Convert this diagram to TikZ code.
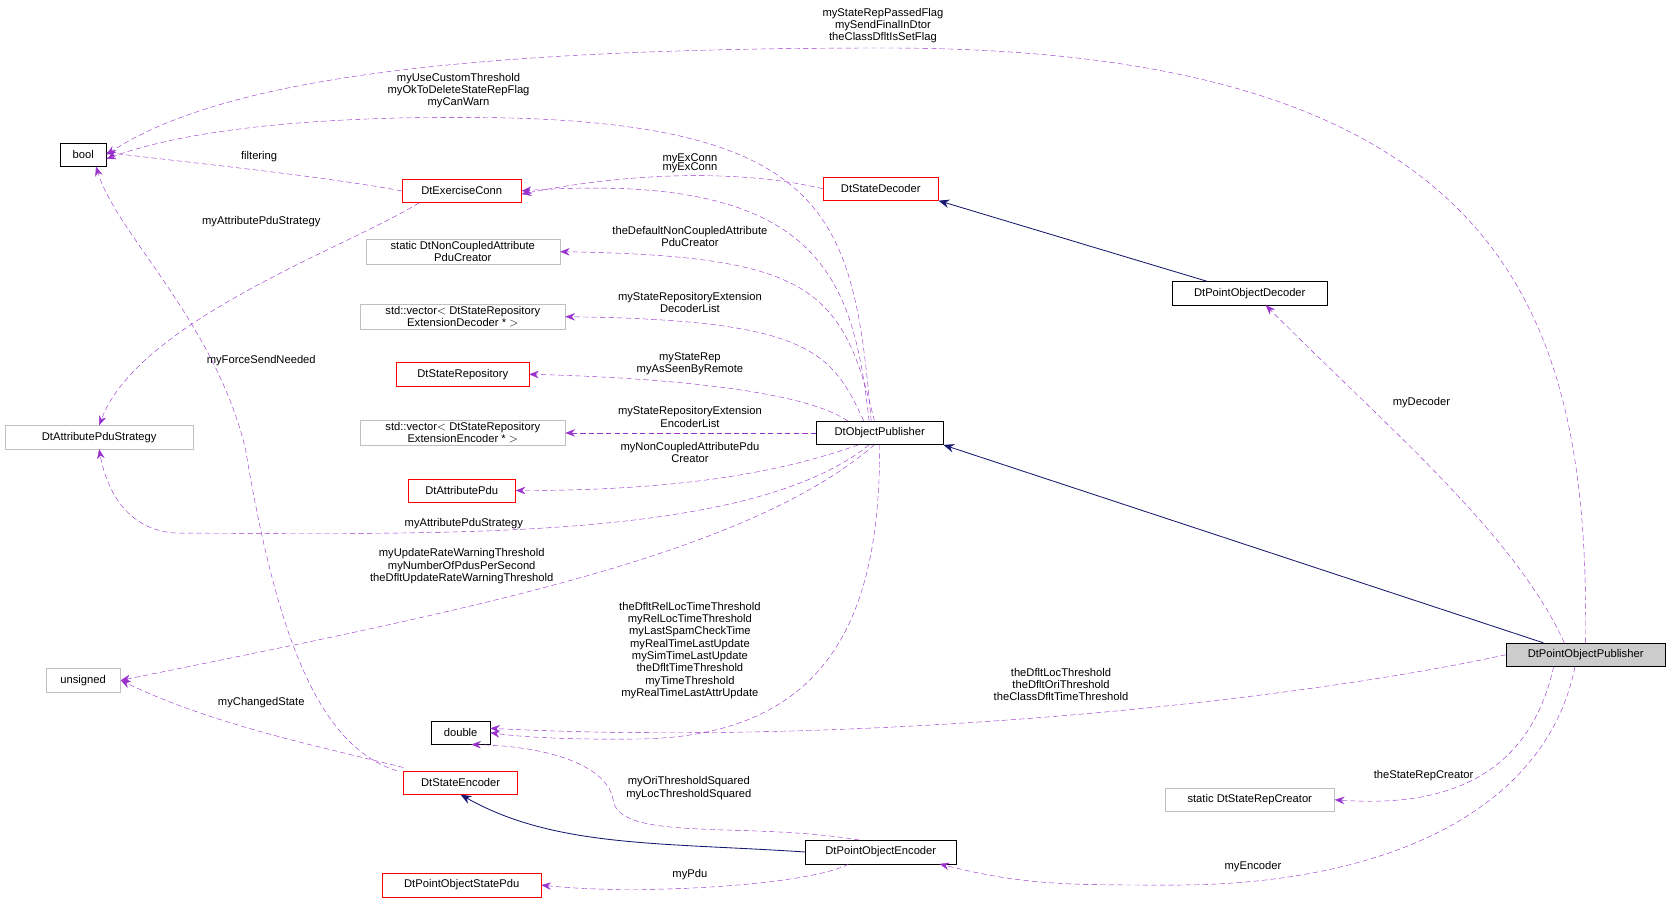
\documentclass[tikz,border=0pt]{standalone}
\usepackage{fontspec}
\setmainfont{Liberation Sans}
\usetikzlibrary{arrows.meta}
\definecolor{pur}{RGB}{153,50,204}
\definecolor{nav}{RGB}{25,25,112}
\definecolor{gb}{RGB}{191,191,191}
\begin{document}
\begin{tikzpicture}[x=1pt,y=-1pt,
  every node/.style={font=\fontsize{10.5}{11.5}\selectfont},
  box/.style={draw=black,fill=white,inner sep=2pt,minimum height=22pt,align=center},
  rb/.style={box,draw=red},
  gbx/.style={box,draw=gb},
  lab/.style={align=center,inner sep=0pt},
  use/.style={draw=pur,dashed,dash pattern=on 5pt off 3pt,-{Stealth[length=9pt,width=7pt]}},
  inh/.style={draw=nav,thick,-{Stealth[length=10pt,width=8pt]}}]
\useasboundingbox (0,0) rectangle (1568,847);
\node[box,minimum width=43pt] (bool) at (78,145) {bool};
\node[rb,minimum width=112pt] (ec) at (433,179) {DtExerciseConn};
\node[rb,minimum width=108pt] (sd) at (826,177) {DtStateDecoder};
\node[gbx,minimum width=182pt] (nc) at (434,236) {static DtNonCoupledAttribute\\PduCreator};
\node[gbx,minimum width=192pt] (vd) at (434,297) {std::vector$<$ DtStateRepository\\ExtensionDecoder * $>$};
\node[rb,minimum width=124pt] (sr) at (434,351) {DtStateRepository};
\node[gbx,minimum width=192pt] (ve) at (434,406) {std::vector$<$ DtStateRepository\\ExtensionEncoder * $>$};
\node[rb,minimum width=101pt] (ap) at (433,460) {DtAttributePdu};
\node[gbx,minimum width=177pt] (aps) at (93,410) {DtAttributePduStrategy};
\node[box,minimum width=119pt] (op) at (825,406) {DtObjectPublisher};
\node[box,minimum width=145pt] (pod) at (1172,275) {DtPointObjectDecoder};
\node[box,fill=gb!80,minimum width=149pt] (pop) at (1487,614) {DtPointObjectPublisher};
\node[gbx,minimum width=70pt] (un) at (78,638) {unsigned};
\node[box,minimum width=55pt] (db) at (432,687) {double};
\node[rb,minimum width=107pt] (se) at (432,734) {DtStateEncoder};
\node[gbx,minimum width=159pt] (src) at (1172,750) {static DtStateRepCreator};
\node[box,minimum width=141pt] (poe) at (826,799) {DtPointObjectEncoder};
\node[rb,minimum width=149pt] (psp) at (433,830) {DtPointObjectStatePdu};

% inheritance
\draw[inh] ([xshift=35pt]pop.north west) -- (op.south east);
\draw[inh] ([xshift=-40pt]pod.north) -- (sd.south east);
\draw[inh] (poe.west) .. controls (620,790) and (520,795) .. (se.south);

% uses
\draw[use] (pop.north) .. controls (1490,300) and (1420,45) .. (830,45) .. controls (400,45) and (200,80) .. (bool.east);
\node[lab] at (828,24) {myStateRepPassedFlag\\mySendFinalInDtor\\theClassDfltIsSetFlag};
\draw[use] ([xshift=-8pt]op.north) .. controls (800,200) and (780,110) .. (430,110) .. controls (300,110) and (180,120) .. ([yshift=-4pt]bool.east);
\node[lab] at (430,85) {myUseCustomThreshold\\myOkToDeleteStateRepFlag\\myCanWarn};
\draw[use] (ec.west) .. controls (300,165) and (200,155) .. ([yshift=2pt]bool.east);
\node[lab] at (243,147) {filtering};
\draw[use] (sd.west) .. controls (700,160) and (600,160) .. ([yshift=-3pt]ec.east);
\node[lab] at (647,149) {myExConn};
\draw[use] ([xshift=-10pt]op.north) .. controls (800,260) and (770,160) .. (ec.east);
\node[lab] at (647,157) {myExConn};
\draw[use] ([xshift=-40pt]ec.south) .. controls (330,230) and (130,300) .. (aps.north);
\node[lab] at (245,208) {myAttributePduStrategy};
\draw[use] ([xshift=-5pt]op.north) .. controls (790,270) and (760,240) .. (nc.east);
\node[lab] at (647,222) {theDefaultNonCoupledAttribute\\PduCreator};
\draw[use] ([xshift=-15pt]op.north) .. controls (780,330) and (760,300) .. (vd.east);
\node[lab] at (647,284) {myStateRepositoryExtension\\DecoderList};
\draw[use] ([xshift=-30pt]op.north) .. controls (760,370) and (650,355) .. (sr.east);
\node[lab] at (647,341) {myStateRep\\myAsSeenByRemote};
\draw[use] (op.west) -- (ve.east);
\node[lab] at (647,391) {myStateRepositoryExtension\\EncoderList};
\draw[use] ([xshift=-20pt]op.south) .. controls (740,440) and (650,460) .. (ap.east);
\node[lab] at (647,424) {myNonCoupledAttributePdu\\Creator};
\draw[use] ([xshift=-10pt]op.south) .. controls (700,510) and (400,500) .. (170,500) .. controls (120,500) and (100,460) .. (aps.south);
\node[lab] at (435,491) {myAttributePduStrategy};
\draw[use] ([xshift=-5pt]op.south) .. controls (700,520) and (450,570) .. (un.east);
\node[lab] at (433,531) {myUpdateRateWarningThreshold\\myNumberOfPdusPerSecond\\theDfltUpdateRateWarningThreshold};
\draw[use] (op.south) .. controls (825,560) and (790,690) .. (600,693) .. controls (520,694) and (480,690) .. (db.east);
\node[lab] at (647,610) {theDfltRelLocTimeThreshold\\myRelLocTimeThreshold\\myLastSpamCheckTime\\myRealTimeLastUpdate\\mySimTimeLastUpdate\\theDfltTimeThreshold\\myTimeThreshold\\myRealTimeLastAttrUpdate};
\draw[use] (pop.west) .. controls (1200,660) and (800,700) .. ([yshift=4pt]db.east);
\node[lab] at (995,642) {theDfltLocThreshold\\theDfltOriThreshold\\theClassDfltTimeThreshold};
\draw[use] ([xshift=-20pt]poe.north) .. controls (700,770) and (580,790) .. (575,750) .. controls (570,720) and (520,700) .. ([xshift=10pt]db.south);
\node[lab] at (646,739) {myOriThresholdSquared\\myLocThresholdSquared};
\draw[use] ([xshift=-60pt]se.north) .. controls (300,700) and (260,600) .. (230,420) .. controls (200,300) and (110,220) .. ([xshift=12pt]bool.south);
\node[lab] at (245,338) {myForceSendNeeded};
\draw[use] ([yshift=3pt]se.north west) .. controls (300,700) and (200,680) .. (un.east);
\node[lab] at (245,659) {myChangedState};
\draw[use] ([xshift=-30pt]poe.south) .. controls (760,830) and (600,840) .. (psp.east);
\node[lab] at (647,820) {myPdu};
\draw[use] ([xshift=-10pt]pop.south) .. controls (1450,760) and (1300,830) .. (1100,830) .. controls (1000,830) and (960,830) .. ([xshift=55pt]poe.south);
\node[lab] at (1175,813) {myEncoder};
\draw[use] ([xshift=-30pt]pop.south) .. controls (1440,700) and (1390,760) .. (src.east);
\node[lab] at (1335,727) {theStateRepCreator};
\draw[use] ([xshift=-20pt]pop.north) .. controls (1420,500) and (1300,400) .. ([xshift=15pt]pod.south);
\node[lab] at (1333,378) {myDecoder};
\end{tikzpicture}
\end{document}
